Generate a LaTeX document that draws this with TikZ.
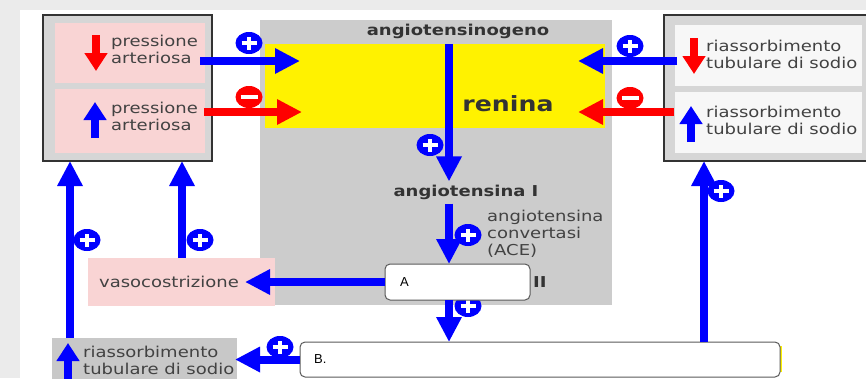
\documentclass[tikz,border=0pt]{standalone}
\usepackage{fontspec}
\setmainfont{DejaVu Sans}[FakeStretch=1.2]
\newfontfamily\boxfont{Liberation Sans}
\usetikzlibrary{arrows.meta,shapes.geometric,calc}
\definecolor{bgband}{HTML}{EBEBEB}
\definecolor{midgray}{HTML}{CCCCCC}
\definecolor{boxgray}{HTML}{D6D6D6}
\definecolor{pinkfill}{HTML}{F9D4D4}
\definecolor{paleinner}{HTML}{F7F7F7}
\definecolor{lowgray}{HTML}{C8C8C8}
\definecolor{ylwfill}{HTML}{FFF200}
\definecolor{pblue}{HTML}{0000FF}
\definecolor{pred}{HTML}{FF0000}
\definecolor{txtgray}{HTML}{424242}
\definecolor{boldgray}{HTML}{333333}
\definecolor{framecol}{HTML}{333333}
\definecolor{roundframe}{HTML}{5A5A5A}
\tikzset{
  area/.style={rectangle, anchor=north west, inner sep=0pt, outer sep=0pt},
  framed/.style={area, fill=boxgray, draw=framecol, line width=2.5pt},
  answer/.style={area, fill=white, draw=roundframe, line width=1pt, rounded corners=5pt},
  txt/.style={font=\fontsize{15}{17}\selectfont, text=txtgray, inner sep=0pt, align=left},
  btxt/.style={font=\fontsize{15}{17}\selectfont\bfseries, text=boldgray, inner sep=0pt},
  anstxt/.style={font=\boxfont\fontsize{13}{15}\selectfont, anchor=west, inner sep=0pt},
  flowb/.style={draw=pblue, line width=8pt, -{Triangle[width=24pt,length=25pt]}},
  flowr/.style={draw=pred, line width=8pt, -{Triangle[width=24pt,length=25pt]}},
  glyphb/.style={draw=pblue, line width=8pt, -{Triangle[width=22pt,length=18pt]}},
  glyphr/.style={draw=pred, line width=8pt, -{Triangle[width=22pt,length=18pt]}},
  plusc/.style={ellipse, fill=pblue, minimum width=27pt, minimum height=22pt, inner sep=0pt,
    path picture={\draw[white,line width=3.5pt]
      ([xshift=-7.5pt]path picture bounding box.center) -- ([xshift=7.5pt]path picture bounding box.center)
      ([yshift=-6.5pt]path picture bounding box.center) -- ([yshift=6.5pt]path picture bounding box.center);}},
  minusc/.style={ellipse, fill=pred, minimum width=27pt, minimum height=22pt, inner sep=0pt,
    path picture={\draw[white,line width=4pt]
      ([xshift=-8.5pt]path picture bounding box.center) -- ([xshift=8.5pt]path picture bounding box.center);}},
}
\begin{document}
\begin{tikzpicture}[x=1pt,y=-1pt]
\useasboundingbox (0,0) rectangle (866,378);
% page background
\node[area, fill=bgband, minimum width=866pt, minimum height=378pt] (page) at (0,0) {};
\node[area, fill=white, minimum width=846pt, minimum height=368pt] (sheet) at (20,10) {};
% central region
\node[area, fill=midgray, minimum width=352pt, minimum height=285pt] (mid) at (260,20) {};
\node[area, fill=ylwfill, minimum width=340pt, minimum height=84pt] (yel) at (265,44) {};
% left framed box
\node[framed, minimum width=169pt, minimum height=146pt] (lbox) at (43,15) {};
\node[area, fill=pinkfill, minimum width=150pt, minimum height=60pt] (lpink1) at (55,23) {};
\node[area, fill=pinkfill, minimum width=150pt, minimum height=64pt] (lpink2) at (55,89) {};
\draw[glyphr] (96,35) -- (96,71);
\draw[glyphb] (95,138) -- (95,102);
\node[txt, anchor=west] (lt1) at (111,49) {pressione\\arteriosa};
\node[txt, anchor=west] (lt2) at (111,116) {pressione\\arteriosa};
% right framed box
\node[framed, minimum width=210pt, minimum height=146pt] (rbox) at (664,15) {};
\node[area, fill=paleinner, minimum width=187pt, minimum height=61pt] (rin1) at (675,25) {};
\node[area, fill=paleinner, minimum width=187pt, minimum height=61pt] (rin2) at (675,92) {};
\draw[glyphr] (694,38) -- (694,74);
\draw[glyphb] (691,142) -- (691,106);
\node[txt, anchor=west] (rt1) at (706,54) {riassorbimento\\tubulare di sodio};
\node[txt, anchor=west] (rt2) at (706,120) {riassorbimento\\tubulare di sodio};
% central texts
\node[btxt] (agen) at (458,31) {angiotensinogeno};
\node[btxt, font=\fontsize{21}{24}\selectfont\bfseries] (ren) at (508,104) {renina};
\node[btxt] (ang1) at (466,192) {angiotensina I};
\node[txt, anchor=west] (ace) at (487,234) {angiotensina\\convertasi\\(ACE)};
\node[btxt, anchor=west] (ang2) at (533,282) {II};
% lower left boxes
\node[area, fill=pinkfill, minimum width=187pt, minimum height=48pt] (vasobox) at (88,258) {};
\node[txt] (vasot) at (169,282) {vasocostrizione};
\node[area, fill=lowgray, minimum width=185pt, minimum height=48pt] (blbox) at (52,338) {};
\draw[glyphb] (68,392) -- (68,343);
\node[txt, anchor=west] (blt) at (83,360) {riassorbimento\\tubulare di sodio};
% plus hidden under box A
\node[plusc] (c8) at (468,306) {};
% answer boxes
\node[area, fill=ylwfill, minimum width=482pt, minimum height=26pt] (ystrip) at (300,346) {};
\node[answer, minimum width=145pt, minimum height=36pt] (boxA) at (385,264) {};
\node[anstxt] (atxt) at (400,282) {A};
\node[answer, minimum width=480pt, minimum height=35pt] (boxB) at (300,342) {};
\node[anstxt] (btxtB) at (314,359.5) {B.};
% helper coordinates
\coordinate (colA) at (449,0);
\coordinate (colR) at (704,0);
\coordinate (colV) at (182,0);
\coordinate (colL) at (70,0);
\coordinate (rowB) at (0,61);
\coordinate (rowR) at (0,112);
% arrows
\draw[flowb] ($(lbox.east |- rowB)+(-12,0)$) -- ($(yel.west |- rowB)+(35,0)$);
\draw[flowr] ($(lbox.east |- rowR)+(-8,0)$) -- ($(yel.west |- rowR)+(37,0)$);
\draw[flowb] ($(rbox.west |- rowB)+(13,0)$) -- ($(yel.east |- rowB)+(-27,0)$);
\draw[flowr] ($(rbox.west |- rowR)+(10,0)$) -- ($(yel.east |- rowR)+(-27,0)$);
\draw[flowb] (colA |- yel.north) -- ($(colA |- ang1.north)+(0,-3)$);
\draw[flowb] ($(colA |- ang1.south)+(0,4)$) -- (colA |- boxA.north);
\draw[flowb] (colA |- boxA.south) -- (colA |- boxB.north);
\draw[flowb] (boxA.west) -- ($(vasobox.east)+(-30,0)$);
\draw[flowb] (boxB.west) -- ($(boxB.west -| blbox.east)+(-2,0)$);
\draw[flowb] (vasobox.north -| colV) -- (lbox.south -| colV);
\draw[flowb] (blbox.north -| colL) -- (lbox.south -| colL);
\draw[flowb] (boxB.north -| colR) -- (rbox.south -| colR);
% signs
\node[plusc] (c1) at (430,145) {};
\node[plusc] (c2) at (468,235) {};
\node[plusc] (c3) at (249,43) {};
\node[minusc] (c4) at (249,97) {};
\node[plusc] (c5) at (200,240) {};
\node[plusc] (c6) at (87,240) {};
\node[plusc] (c7) at (280,347) {};
\node[plusc] (c9) at (721,191) {};
\node[plusc] (c10) at (630,46) {};
\node[minusc] (c11) at (630,98) {};
\end{tikzpicture}
\end{document}
